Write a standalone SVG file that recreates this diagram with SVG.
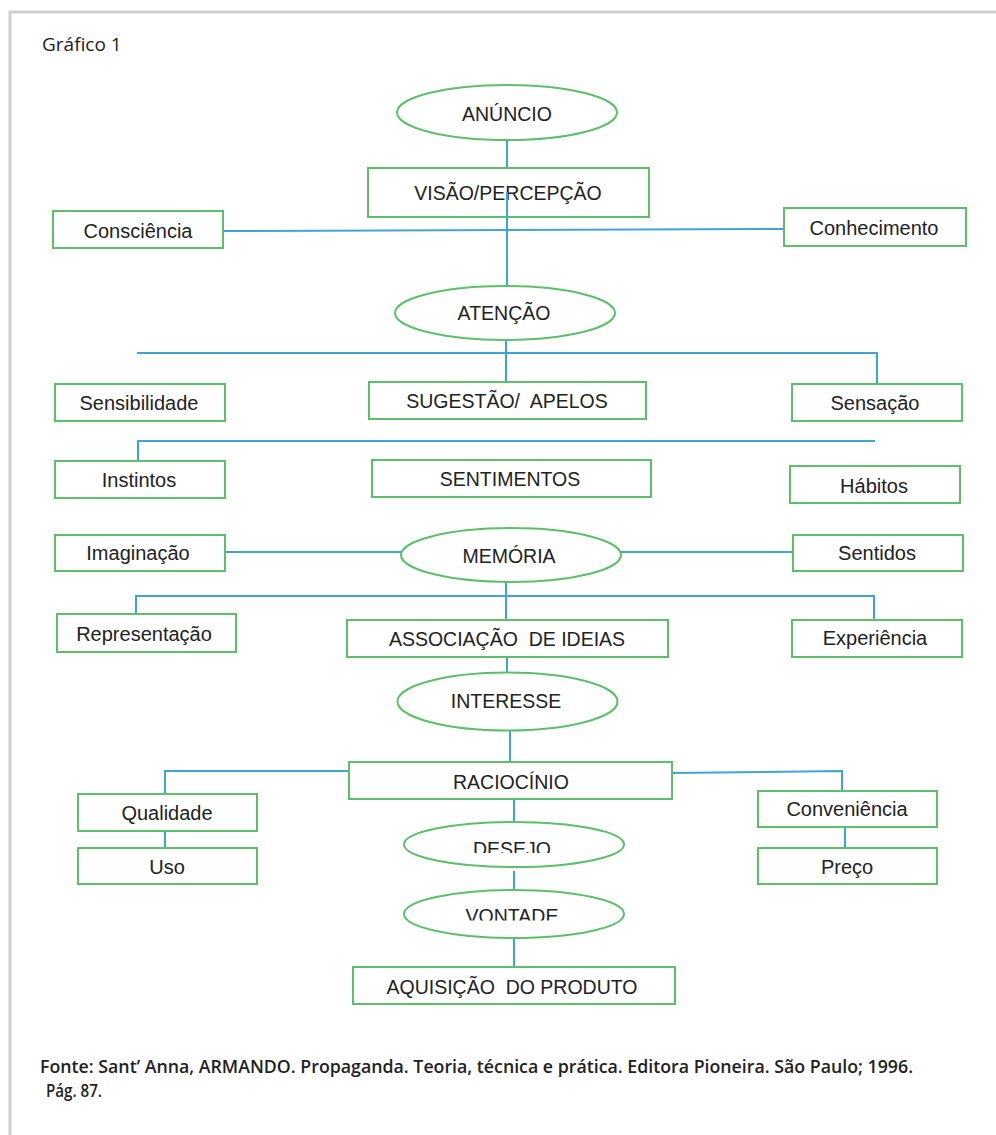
<svg xmlns="http://www.w3.org/2000/svg" width="996" height="1135" viewBox="0 0 996 1135">
<style>
.frame{fill:#fff;stroke:#cfcfcf;stroke-width:3}
.box{fill:#fff;stroke:#5cbf6a;stroke-width:2}
.ell{fill:#fff;stroke:#5cbf6a;stroke-width:2}
.ln{fill:none;stroke:#3fa3d6;stroke-width:2}
.t{font-family:"Liberation Sans",Arial,sans-serif;font-size:19.5px;fill:#222;text-anchor:middle;dominant-baseline:central;white-space:pre}
.tl{font-family:"Liberation Sans",Arial,sans-serif;font-size:20px;fill:#222;text-anchor:middle;dominant-baseline:central}
.cap{font-family:"Open Sans","Noto Sans",sans-serif;font-size:19px;fill:#222}
.src{font-family:"Open Sans","Noto Sans",sans-serif;font-size:17.5px;font-weight:600;fill:#222;white-space:pre}
</style>
<defs>
<clipPath id="cDes"><rect x="400" y="820" width="230" height="33"/></clipPath>
<clipPath id="cVon"><rect x="400" y="888" width="230" height="32.5"/></clipPath>
</defs>
<rect class="frame" x="10" y="12" width="1000" height="1140"/>
<text class="cap" x="42" y="51">Gráfico 1</text>

<g id="connectors">
<path class="ln" d="M507 140V168"/>
<path class="ln" d="M507 192V286"/>
<path class="ln" d="M223 231L784 229"/>
<path class="ln" d="M506 340V383"/>
<path class="ln" d="M137 353H877V384"/>
<path class="ln" d="M138 461V441H875"/>
<path class="ln" d="M225 552H402"/>
<path class="ln" d="M621 552H793"/>
<path class="ln" d="M136 614V596H874V620"/>
<path class="ln" d="M506 582V620"/>
<path class="ln" d="M507 657V672"/>
<path class="ln" d="M510 731V762"/>
<path class="ln" d="M349 771H165V794"/>
<path class="ln" d="M165 827V848"/>
<path class="ln" d="M672 773L842 771V791"/>
<path class="ln" d="M845 827V848"/>
<path class="ln" d="M514 799V822"/>
<path class="ln" d="M514 871V890"/>
<path class="ln" d="M514 938V967"/>
</g>

<g id="anuncio"><ellipse class="ell" cx="507" cy="112.5" rx="110" ry="27.5"/><text class="t" x="507" y="114">ANÚNCIO</text></g>
<g id="visao"><rect class="box" x="368" y="168" width="281" height="49"/><text class="t" x="508" y="193">VISÃO/PERCEPÇÃO</text></g>
<path class="ln" d="M507 192V217"/>
<g id="consciencia"><rect class="box" x="53" y="211" width="170" height="37"/><text class="tl" x="138" y="231">Consciência</text></g>
<g id="conhecimento"><rect class="box" x="784" y="208" width="182" height="38"/><text class="tl" x="874" y="228">Conhecimento</text></g>
<g id="atencao"><ellipse class="ell" cx="505" cy="313" rx="110" ry="27"/><text class="t" x="504" y="313">ATENÇÃO</text></g>
<g id="sensibilidade"><rect class="box" x="55" y="384" width="170" height="37"/><text class="tl" x="139" y="403">Sensibilidade</text></g>
<g id="sugestao"><rect class="box" x="369" y="382" width="277" height="37"/><text class="t" x="507" y="401">SUGESTÃO/  APELOS</text></g>
<g id="sensacao"><rect class="box" x="792" y="384" width="170" height="37"/><text class="tl" x="875" y="403">Sensação</text></g>
<g id="instintos"><rect class="box" x="55" y="461" width="170" height="37"/><text class="tl" x="139" y="480">Instintos</text></g>
<g id="sentimentos"><rect class="box" x="372" y="460" width="279" height="37"/><text class="t" x="510" y="479">SENTIMENTOS</text></g>
<g id="habitos"><rect class="box" x="790" y="466" width="170" height="37"/><text class="tl" x="874" y="486">Hábitos</text></g>
<g id="imaginacao"><rect class="box" x="55" y="535" width="170" height="36"/><text class="tl" x="138" y="553">Imaginação</text></g>
<g id="memoria"><ellipse class="ell" cx="511" cy="555" rx="110" ry="27"/><text class="t" x="509" y="556">MEMÓRIA</text></g>
<g id="sentidos"><rect class="box" x="793" y="535" width="170" height="36"/><text class="tl" x="877" y="553">Sentidos</text></g>
<g id="representacao"><rect class="box" x="57" y="614" width="179" height="38"/><text class="tl" x="144" y="634">Representação</text></g>
<g id="associacao"><rect class="box" x="347" y="620" width="321" height="37"/><text class="t" x="507" y="639">ASSOCIAÇÃO  DE IDEIAS</text></g>
<g id="experiencia"><rect class="box" x="792" y="620" width="170" height="37"/><text class="tl" x="875" y="638">Experiência</text></g>
<g id="interesse"><ellipse class="ell" cx="507.5" cy="701.5" rx="110" ry="29"/><text class="t" x="506" y="701">INTERESSE</text></g>
<g id="raciocinio"><rect class="box" x="349" y="762" width="323" height="37"/><text class="t" x="511" y="782">RACIOCÍNIO</text></g>
<g id="qualidade"><rect class="box" x="78" y="794" width="179" height="37"/><text class="tl" x="167" y="813">Qualidade</text></g>
<g id="uso"><rect class="box" x="78" y="848" width="179" height="36"/><text class="tl" x="167" y="867">Uso</text></g>
<g id="conveniencia"><rect class="box" x="758" y="791" width="179" height="36"/><text class="tl" x="847" y="809">Conveniência</text></g>
<g id="preco"><rect class="box" x="758" y="848" width="179" height="36"/><text class="tl" x="847" y="867">Preço</text></g>
<g id="desejo"><ellipse class="ell" cx="514" cy="844.5" rx="110" ry="22.5"/><text class="t" x="512" y="849" clip-path="url(#cDes)">DESEJO</text></g>
<g id="vontade"><ellipse class="ell" cx="514" cy="914" rx="110" ry="24"/><text class="t" x="512" y="915.5" clip-path="url(#cVon)">VONTADE</text></g>
<g id="aquisicao"><rect class="box" x="353" y="967" width="322" height="37"/><text class="t" x="512" y="987">AQUISIÇÃO  DO PRODUTO</text></g>

<text class="src" x="40" y="1073" textLength="873" lengthAdjust="spacingAndGlyphs">Fonte: Sant’ Anna, ARMANDO. Propaganda. Teoria, técnica e prática. Editora Pioneira. São Paulo; 1996.</text>
<text class="src" x="46" y="1097" textLength="56" lengthAdjust="spacingAndGlyphs">Pág. 87.</text>
</svg>
